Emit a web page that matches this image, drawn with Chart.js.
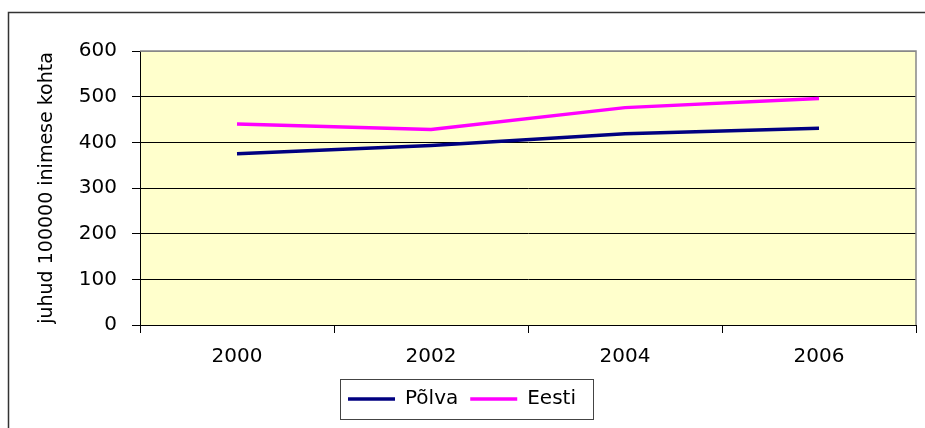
<!DOCTYPE html>
<html>
<head>
<meta charset="utf-8">
<title>Põlva / Eesti</title>
<script src="https://cdn.jsdelivr.net/npm/chart.js@4/dist/chart.umd.min.js"></script>
<style>
    html, body { margin: 0; padding: 0; background: #fff; overflow: hidden; }
    #wrap { width: 925px; height: 428px; }
</style>
</head>
<body>
<div id="wrap"><canvas id="chart" width="925" height="428"></canvas></div>
<script>
    var years = ["2000", "2002", "2004", "2006"];
    var polva = [375, 393, 419, 431];
    var eesti = [440, 428, 476, 496];
    var yTitle = "juhud 100000 inimese kohta";

    var font = "'DejaVu Sans', 'Liberation Sans', sans-serif";

    // yellow plot area, outer frame, grey plot border and legend box
    var decor = {
        id: "decor",
        beforeDraw: function(chart) {
            var ctx = chart.ctx, a = chart.chartArea;
            ctx.save();
            ctx.fillStyle = "#fff";
            ctx.fillRect(0, 0, chart.width, chart.height);
            ctx.fillStyle = "#FFFFCC";
            ctx.fillRect(a.left, a.top, a.right - a.left, a.bottom - a.top);
            ctx.strokeStyle = "#333";
            ctx.lineWidth = 1.5;
            ctx.beginPath();
            ctx.moveTo(8.5, chart.height + 5);
            ctx.lineTo(8.5, 12.5);
            ctx.lineTo(chart.width + 5, 12.5);
            ctx.stroke();
            ctx.restore();
        },
        afterDraw: function(chart) {
            var ctx = chart.ctx, a = chart.chartArea;
            ctx.save();
            ctx.strokeStyle = "#888";
            ctx.lineWidth = 1.5;
            ctx.beginPath();
            ctx.moveTo(a.left, a.top);
            ctx.lineTo(a.right, a.top);
            ctx.lineTo(a.right, a.bottom);
            ctx.stroke();
            var hb = chart.legend.legendHitBoxes;
            if (hb && hb.length) {
                var first = hb[0], last = hb[hb.length - 1];
                var x0 = first.left - 8, x1 = last.left + last.width + 17;
                var y0 = first.top - 10, y1 = first.top + first.height + 10;
                ctx.strokeStyle = "#444";
                ctx.lineWidth = 1;
                ctx.strokeRect(Math.round(x0) + 0.5, Math.round(y0) + 0.5, Math.round(x1 - x0), Math.round(y1 - y0));
            }
            ctx.restore();
        }
    };

    new Chart(document.getElementById("chart"), {
        type: "line",
        data: {
            labels: years,
            datasets: [{
                label: "Põlva",
                data: polva,
                borderColor: "#000080",
                backgroundColor: "#000080",
                borderWidth: 3.5,
                pointRadius: 0,
                tension: 0
            }, {
                label: "Eesti",
                data: eesti,
                borderColor: "#FF00FF",
                backgroundColor: "#FF00FF",
                borderWidth: 3.5,
                pointRadius: 0,
                tension: 0
            }]
        },
        options: {
            responsive: false,
            animation: false,
            layout: { padding: { left: 8, top: 51, right: 9, bottom: 9 } },
            plugins: {
                tooltip: { enabled: false },
                legend: {
                    position: "bottom",
                    labels: {
                        usePointStyle: true,
                        pointStyle: "line",
                        pointStyleWidth: 47,
                        padding: 12,
                        color: "#000",
                        font: { family: font, size: 20 }
                    }
                }
            },
            scales: {
                x: {
                    offset: true,
                    afterFit: function(s) { s.height = 52; },
                    grid: {
                        offset: true,
                        drawOnChartArea: false,
                        drawTicks: true,
                        tickLength: 8,
                        color: "#000"
                    },
                    border: { color: "#000", width: 1 },
                    ticks: {
                        color: "#000",
                        padding: 12,
                        maxRotation: 0,
                        font: { family: font, size: 20 }
                    }
                },
                y: {
                    min: 0,
                    max: 600,
                    afterFit: function(s) { s.width = 132; },
                    grid: {
                        color: function(c) { return c.tick && c.tick.value === 600 ? "#888" : "#000"; },
                        tickLength: 8,
                        tickColor: "#000"
                    },
                    border: { color: "#000", width: 1 },
                    ticks: {
                        stepSize: 100,
                        color: "#000",
                        padding: 15,
                        font: { family: font, size: 20 }
                    },
                    title: {
                        display: true,
                        text: yTitle,
                        color: "#000",
                        padding: { top: 28, bottom: 0 },
                        font: { family: font, size: 19 }
                    }
                }
            }
        },
        plugins: [decor]
    });
</script>
</body>
</html>
